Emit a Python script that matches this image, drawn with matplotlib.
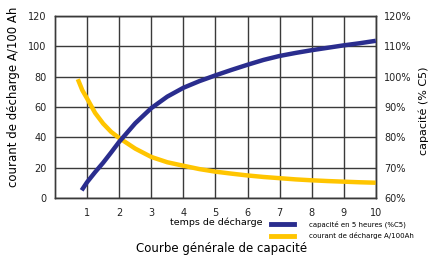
import matplotlib
matplotlib.use("Agg")
import matplotlib.pyplot as plt

# data
temps = [0.83, 1, 1.25, 1.5, 1.75, 2, 2.5, 3, 3.5, 4, 4.5, 5, 5.5, 6, 6.5, 7, 7.5, 8, 8.5, 9, 9.5, 10]
capacite_pct = [62.5, 65.2, 68.5, 71.6, 75.0, 78.5, 84.6, 89.6, 93.4, 96.3, 98.5, 100.4, 102.2,
                103.9, 105.5, 106.8, 107.8, 108.7, 109.5, 110.3, 111.0, 111.8]

temps_c = [0.71, 0.85, 1, 1.25, 1.5, 1.75, 2, 2.5, 3, 3.5, 4, 4.5, 5, 5.5, 6, 6.5, 7, 7.5, 8, 8.5, 9, 9.5, 10]
courant = [78.3, 71, 65.5, 56, 49, 43.5, 39.5, 32.5, 27, 23.5, 21.2, 19, 17.3, 16, 14.8, 13.8,
           13, 12.2, 11.6, 11.1, 10.7, 10.3, 10]

xticks = list(range(1, 11))
yticks_left = [0, 20, 40, 60, 80, 100, 120]
yticks_right = [60, 70, 80, 90, 100, 110, 120]

blue = "#2a2d8e"
yellow = "#ffc500"
grid_col = "#3a3a3a"

plt.rcParams["font.family"] = ["DejaVu Sans"]

fig = plt.figure(figsize=(4.3, 2.57), dpi=100)
ax = fig.add_axes([0.128, 0.23, 0.746, 0.708])
ax2 = ax.twinx()

ax.plot(temps_c, courant, color=yellow, lw=3.2, solid_capstyle="butt",
        solid_joinstyle="round", zorder=3)
ax2.plot(temps, capacite_pct, color=blue, lw=3.2, solid_capstyle="butt",
         solid_joinstyle="round", zorder=3)

ax.set_xlim(0, 10)
ax.set_ylim(0, 120)
ax2.set_ylim(60, 120)
ax.set_xticks(xticks)
ax.set_yticks(yticks_left)
ax2.set_yticks(yticks_right)
ax2.set_yticklabels([f"{v}%" for v in yticks_right])

ax.grid(True, color=grid_col, lw=1.0)
ax.set_axisbelow(True)
for a in (ax, ax2):
    for s in a.spines.values():
        s.set_color(grid_col)
        s.set_linewidth(1.0)
    a.tick_params(length=0, labelsize=7, colors="#222222")
ax.tick_params(axis="x", pad=7)
ax.tick_params(axis="y", pad=6)
ax2.tick_params(axis="y", pad=6)

ax.set_ylabel("courant de décharge A/100 Ah", fontsize=8.5)
ax.yaxis.set_label_coords(-0.109, 0.555)
ax2.set_ylabel("capacité (% C5)", fontsize=8)
ax2.yaxis.set_label_coords(1.132, 0.48)

fig.text(0.502, 0.136, "temps de décharge", ha="center", va="center", fontsize=6.8)
fig.text(0.515, 0.033, "Courbe générale de capacité", ha="center", va="center", fontsize=8.5)

h1, = ax.plot([], [], color=blue, lw=3.5)
h2, = ax.plot([], [], color=yellow, lw=3.5)
fig.legend([h1, h2], ["capacité en 5 heures (%C5)", "courant de décharge A/100Ah"],
           loc="center left", bbox_to_anchor=(0.615, 0.105), frameon=False,
           fontsize=5, handlelength=3.3, handletextpad=2.2, labelspacing=0.6)

fig.savefig("out.png", dpi=100)
